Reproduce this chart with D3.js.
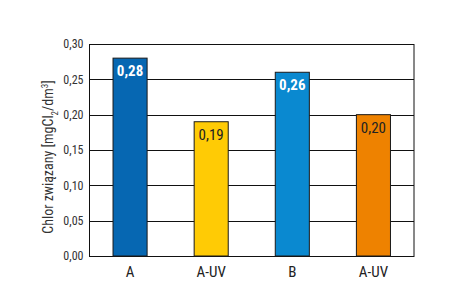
<!DOCTYPE html>
<html><head><meta charset="utf-8">
<script src="https://cdn.jsdelivr.net/npm/d3@7"></script>
<style>body{margin:0;background:#fff}svg{display:block}</style>
</head><body>
<script>
const categories = ["A", "A-UV", "B", "A-UV"];
const values = [0.28, 0.19, 0.26, 0.20];
const valueLabels = ["0,28", "0,19", "0,26", "0,20"];
const colors = ["#0667b2", "#ffcb05", "#0a89d0", "#ee8200"];
const labelColors = ["#ffffff", "#222222", "#ffffff", "#222222"];
const yTicks = [0, 0.05, 0.10, 0.15, 0.20, 0.25, 0.30];

const W = 449, H = 297;
const m = {left: 89.5, right: 35, top: 44, bottom: 41};
const font = "'Liberation Sans Narrow','Arial Narrow','Roboto Condensed',sans-serif";

const svg = d3.select("body").append("svg").attr("width", W).attr("height", H);
const x = d3.scaleBand().domain(d3.range(categories.length)).range([m.left, W - m.right]).paddingInner(0.58).paddingOuter(0.29);
const y = d3.scaleLinear().domain([0, 0.30]).range([H - m.bottom, m.top]);

svg.append("g").selectAll("line").data(yTicks).join("line")
  .attr("x1", m.left).attr("x2", W - m.right)
  .attr("y1", d => Math.round(y(d)) + 0.5).attr("y2", d => Math.round(y(d)) + 0.5)
  .attr("stroke", "#111").attr("stroke-width", 1);

svg.append("rect").attr("x", m.left).attr("y", Math.round(y(0.30)) + 0.5)
  .attr("width", W - m.right - m.left).attr("height", Math.round(y(0)) - Math.round(y(0.30)))
  .attr("fill", "none").attr("stroke", "#111").attr("stroke-width", 1);

const yAxis = d3.axisLeft(y).tickValues(yTicks).tickSize(0).tickPadding(6)
  .tickFormat(d => d3.format(".2f")(d).replace(".", ","));
const ga = svg.append("g").attr("transform", `translate(${m.left},0)`).call(yAxis);
ga.select(".domain").remove();
ga.selectAll("text").attr("font-family", font).attr("font-size", 12).attr("fill", "#333");

svg.append("g").selectAll("rect").data(values).join("rect")
  .attr("x", (d, i) => x(i)).attr("width", x.bandwidth())
  .attr("y", d => y(d)).attr("height", d => y(0) - y(d))
  .attr("fill", (d, i) => colors[i]).attr("stroke", "#1a1a1a").attr("stroke-width", 1);

svg.append("g").selectAll("text").data(values).join("text")
  .attr("x", (d, i) => x(i) + x.bandwidth() / 2).attr("y", d => y(d) + 18)
  .attr("text-anchor", "middle").attr("font-family", font).attr("font-size", 15)
  .attr("font-weight", (d, i) => labelColors[i] === "#ffffff" ? "bold" : "normal")
  .attr("fill", (d, i) => labelColors[i]).text((d, i) => valueLabels[i]);

const xAxis = d3.axisBottom(x).tickSize(0).tickPadding(10).tickFormat(i => categories[i]);
const gx = svg.append("g").attr("transform", `translate(0,${y(0)})`).call(xAxis);
gx.select(".domain").remove();
gx.selectAll("text").attr("font-family", font).attr("font-size", 15).attr("fill", "#222");

const t = svg.append("text").attr("transform", "translate(53,157) rotate(-90)")
  .attr("text-anchor", "middle").attr("font-family", font).attr("font-size", 14).attr("fill", "#333");
t.append("tspan").text("Chlor związany [mgCl");
t.append("tspan").attr("baseline-shift", "sub").attr("font-size", 9).text("2");
t.append("tspan").text("/dm");
t.append("tspan").attr("baseline-shift", "super").attr("font-size", 9).text("3");
t.append("tspan").text("]");
</script>
</body></html>
